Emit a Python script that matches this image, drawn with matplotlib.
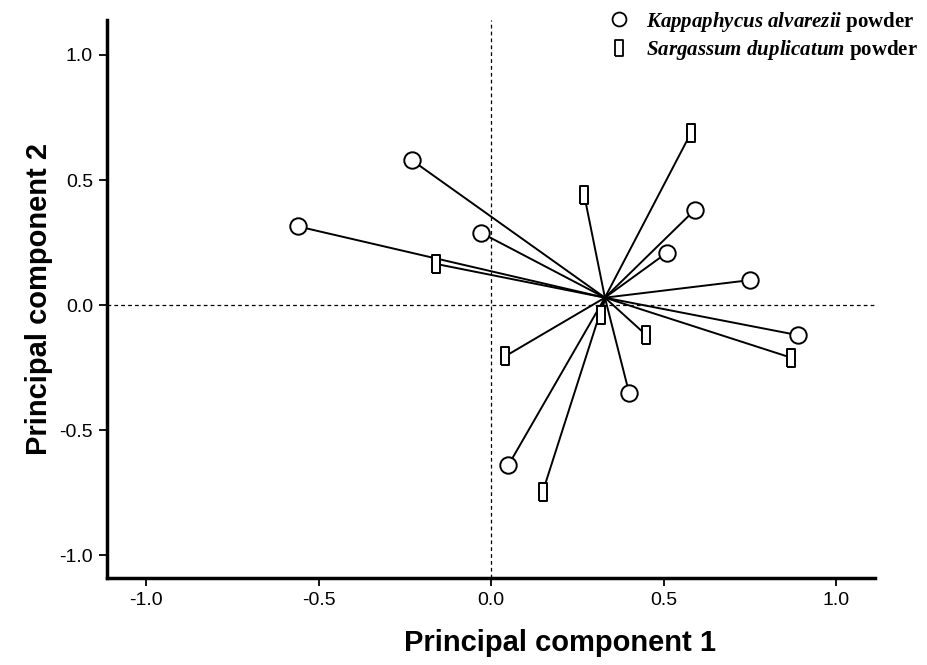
"""
PCA loading plot: Kappaphycus alvarezii vs Sargassum duplicatum powder
"""
import matplotlib
matplotlib.use("Agg")
import matplotlib.pyplot as plt
from matplotlib.lines import Line2D

# centre of the star (all lines meet here)
center = (0.33, 0.03)

# Kappaphycus alvarezii powder (circles)
kap_x = [-0.56, -0.23, -0.03, 0.59, 0.51, 0.75, 0.89, 0.40, 0.05]
kap_y = [0.315, 0.58, 0.29, 0.38, 0.21, 0.10, -0.12, -0.35, -0.64]

# Sargassum duplicatum powder (rectangles)
sar_x = [-0.16, 0.27, 0.58, 0.32, 0.45, 0.87, 0.04, 0.15]
sar_y = [0.165, 0.44, 0.69, -0.04, -0.12, -0.21, -0.205, -0.745]

x_ticks = [-1.0, -0.5, 0.0, 0.5, 1.0]
y_ticks = [-1.0, -0.5, 0.0, 0.5, 1.0]

plt.rcParams["mathtext.fontset"] = "custom"
plt.rcParams["mathtext.it"] = "Liberation Serif:italic:bold"
plt.rcParams["mathtext.rm"] = "Liberation Serif:bold"

# tall narrow box marker
rect_marker = [(-0.25, -0.5), (0.25, -0.5), (0.25, 0.5), (-0.25, 0.5), (-0.25, -0.5)]

fig = plt.figure(figsize=(9.28, 6.65), dpi=100)
ax = fig.add_axes([0.1153, 0.131, 0.8277, 0.839])

# reference lines through the origin
ax.axhline(0, color="black", lw=0.9, ls=(0, (3, 2.5)), zorder=1)
ax.axvline(0, color="black", lw=0.9, ls=(0, (3, 2.5)), zorder=1)

# rays from centre to every point
for x, y in zip(kap_x + sar_x, kap_y + sar_y):
    ax.plot([center[0], x], [center[1], y], color="black", lw=1.4, zorder=2)

ax.scatter(kap_x, kap_y, s=140, marker="o", facecolor="white",
           edgecolor="black", linewidth=1.4, zorder=3)
ax.scatter(sar_x, sar_y, s=150, marker=rect_marker, facecolor="white",
           edgecolor="black", linewidth=1.4, zorder=3)

ax.set_xlim(-1.113, 1.113)
ax.set_ylim(-1.09, 1.14)
ax.set_xticks(x_ticks)
ax.set_yticks(y_ticks)
ax.set_xticklabels([f"{v:.1f}" for v in x_ticks], family="Liberation Sans", fontsize=14)
ax.set_yticklabels([f"{v:.1f}" for v in y_ticks], family="Liberation Sans", fontsize=14)
ax.tick_params(direction="out", length=6, width=1.3, pad=4)

for side in ["top", "right"]:
    ax.spines[side].set_visible(False)
for side in ["left", "bottom"]:
    ax.spines[side].set_linewidth(2.5)

ax.set_xlabel("Principal component 1", family="Liberation Sans", fontsize=21,
              fontweight="bold", labelpad=14)
ax.xaxis.set_label_coords(0.59, -0.092)
ax.set_ylabel("Principal component 2", family="Liberation Sans", fontsize=21,
              fontweight="bold", labelpad=5)

handles = [
    Line2D([], [], ls="none", marker="o", ms=10, mfc="white", mec="black", mew=1.3),
    Line2D([], [], ls="none", marker=rect_marker, ms=11, mfc="white", mec="black", mew=1.3),
]
labels = [r"$\mathit{Kappaphycus\ alvarezii}$ powder",
          r"$\mathit{Sargassum\ duplicatum}$ powder"]
ax.legend(handles, labels, loc="upper right", bbox_to_anchor=(1.08, 1.052),
          frameon=False, prop={"family": "Liberation Serif", "size": 15, "weight": "bold"},
          handletextpad=0.8, labelspacing=0.2, handlelength=1.0)

fig.savefig("out.png", dpi=100)
